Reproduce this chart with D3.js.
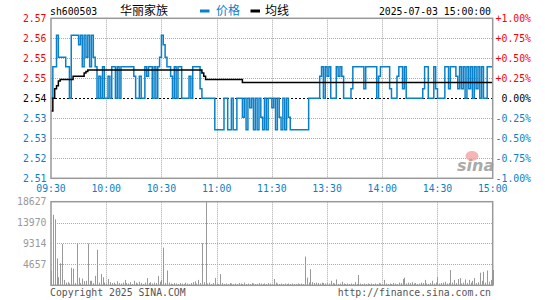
<!DOCTYPE html>
<html>
<head>
<meta charset="utf-8">
<title>sh600503 分时</title>
<style>
  body { margin: 0; background: #fff; }
  svg text { font-family: "DejaVu Sans Mono", monospace; font-size: 9.8px; }
  svg text.cjk { font-family: "Noto Sans CJK SC", sans-serif; font-size: 12px; }
</style>
</head>
<body>
<svg width="545" height="300"></svg>
<script src="https://d3js.org/d3.v7.min.js"></script>
<script>
// 数据
var code = 'sh600503';
var stockName = '华丽家族';
var stamp = '2025-07-03 15:00:00';
var prevClose = 2.54;

var timeTicks = [0, 30, 60, 90, 120, 150, 180, 210, 240];
var timeLabels = ['09:30', '10:00', '10:30', '11:00', '11:30', '13:30', '14:00', '14:30', '15:00'];

var pctTicks = [1, 0.75, 0.5, 0.25, 0, -0.25, -0.5, -0.75, -1];
var priceLabels = ['2.57', '2.56', '2.55', '2.55', '2.54', '2.53', '2.53', '2.52', '2.51'];
var pctLabels = ['+1.00%', '+0.75%', '+0.50%', '+0.25%', '0.00%', '-0.25%', '-0.50%', '-0.75%', '-1.00%'];

var volTicks = [18627, 13970, 9314, 4657];
var volMax = 18627;

// 每分钟价格 (241)
var price = [
  2.54, 2.55, 2.55, 2.56, 2.553, 2.553, 2.553, 2.553, 2.55, 2.55,
  2.54, 2.56, 2.56, 2.56, 2.56, 2.557, 2.56, 2.55, 2.56, 2.553,
  2.56, 2.55, 2.56, 2.553, 2.55, 2.54, 2.547, 2.54, 2.55, 2.54,
  2.54, 2.547, 2.54, 2.55, 2.55, 2.54, 2.55, 2.54, 2.55, 2.55,
  2.55, 2.55, 2.55, 2.55, 2.55, 2.547, 2.54, 2.54, 2.547, 2.54,
  2.54, 2.55, 2.547, 2.55, 2.55, 2.54, 2.55, 2.54, 2.55, 2.553,
  2.56, 2.557, 2.553, 2.55, 2.55, 2.547, 2.54, 2.55, 2.54, 2.55,
  2.55, 2.54, 2.54, 2.54, 2.54, 2.547, 2.54, 2.55, 2.55, 2.55,
  2.55, 2.543, 2.54, 2.54, 2.54, 2.54, 2.54, 2.54, 2.54, 2.53,
  2.53, 2.53, 2.53, 2.53, 2.54, 2.54, 2.53, 2.53, 2.54, 2.53,
  2.53, 2.54, 2.54, 2.54, 2.534, 2.54, 2.53, 2.54, 2.537, 2.54,
  2.53, 2.54, 2.53, 2.54, 2.534, 2.53, 2.54, 2.53, 2.54, 2.54,
  2.537, 2.54, 2.53, 2.54, 2.534, 2.53, 2.54, 2.53, 2.54, 2.534,
  2.53, 2.53, 2.53, 2.53, 2.53, 2.53, 2.53, 2.53, 2.53, 2.53,
  2.54, 2.54, 2.54, 2.54, 2.54, 2.54, 2.547, 2.55, 2.54, 2.55,
  2.547, 2.55, 2.54, 2.54, 2.54, 2.55, 2.547, 2.55, 2.547, 2.54,
  2.54, 2.54, 2.54, 2.543, 2.55, 2.55, 2.55, 2.55, 2.55, 2.55,
  2.543, 2.55, 2.55, 2.55, 2.55, 2.55, 2.55, 2.54, 2.547, 2.55,
  2.55, 2.55, 2.55, 2.55, 2.543, 2.54, 2.54, 2.54, 2.547, 2.55,
  2.55, 2.543, 2.55, 2.54, 2.54, 2.54, 2.54, 2.54, 2.54, 2.54,
  2.54, 2.54, 2.543, 2.55, 2.55, 2.54, 2.54, 2.54, 2.55, 2.543,
  2.54, 2.54, 2.54, 2.54, 2.55, 2.55, 2.543, 2.55, 2.55, 2.55,
  2.547, 2.543, 2.55, 2.543, 2.55, 2.54, 2.55, 2.543, 2.55, 2.54,
  2.55, 2.543, 2.55, 2.54, 2.55, 2.54, 2.54, 2.55, 2.55, 2.55,
  2.55
];

// 均线 (分钟, 价格) 变化点
var avgLine = [
  [0, 2.536], [1, 2.540], [2, 2.543], [3, 2.544], [4, 2.5455], [5, 2.546],
  [12, 2.547], [18, 2.548], [19, 2.5485], [20, 2.549], [82, 2.548], [83, 2.547],
  [84, 2.546], [104, 2.545], [240, 2.545]
];

// 每分钟成交量 (241)
var volume = [
  3300, 15700, 14700, 6000, 1800, 4900, 9200, 1200, 600, 700,
  400, 3900, 3700, 500, 9400, 1700, 500, 1500, 900, 1000,
  9300, 1000, 1000, 500, 2100, 7900, 600, 2500, 1800, 600,
  400, 1400, 700, 500, 600, 300, 900, 500, 400, 600,
  1200, 500, 400, 700, 300, 1000, 600, 400, 800, 500,
  300, 600, 1600, 500, 700, 400, 600, 500, 2100, 800,
  1200, 8400, 500, 3300, 600, 400, 300, 500, 400, 300,
  500, 400, 300, 600, 400, 300, 500, 700, 900, 400,
  1200, 500, 9400, 700, 18627, 400, 600, 300, 500, 1600,
  400, 300, 2500, 500, 300, 400, 300, 500, 400, 300,
  400, 300, 500, 400, 300, 600, 300, 400, 300, 500,
  400, 300, 300, 500, 400, 300, 400, 300, 500, 400,
  300, 1400, 600, 400, 300, 400, 300, 400, 300, 400,
  300, 400, 300, 300, 400, 300, 400, 300, 6400, 1700,
  600, 3600, 700, 500, 600, 500, 400, 600, 500, 400,
  500, 400, 1000, 500, 400, 1300, 300, 400, 800, 400,
  300, 400, 300, 400, 300, 700, 300, 2300, 400, 300,
  400, 300, 400, 300, 400, 300, 400, 300, 500, 400,
  300, 1200, 400, 300, 400, 300, 500, 400, 300, 600,
  500, 1400, 1700, 400, 600, 500, 700, 400, 500, 300,
  400, 600, 500, 1200, 400, 300, 500, 1000, 400, 600,
  1800, 400, 500, 600, 800, 400, 500, 3400, 600, 1200,
  500, 1400, 1600, 400, 600, 1300, 500, 1200, 600, 1000,
  1600, 500, 700, 2800, 1000, 3000, 600, 3300, 800, 1200,
  3400
];

var blue = '#0a80c8';
var grey = '#999';

var svg = d3.select('svg');
var left = 51, right = 492.7;
var x = d3.scaleLinear().domain([0, 240]).range([left, right]);
var y = d3.scaleLinear().domain([prevClose * 0.99, prevClose * 1.01]).range([178.3, 18.3]);
var yv = d3.scaleLinear().domain([0, volMax]).range([285.3, 201.7]);
function pctY(p) { return y(prevClose * (1 + p / 100)); }
function labelColor(p) { return p > 0 ? '#f00' : (p < 0 ? blue : '#000'); }

// 标题
svg.append('text').attr('x', 50).attr('y', 14.5).text(code);
svg.append('text').attr('class', 'cjk').attr('x', 120).attr('y', 15).text(stockName);
svg.append('rect').attr('x', 200).attr('y', 9.5).attr('width', 9.5).attr('height', 3).attr('fill', blue);
svg.append('text').attr('class', 'cjk').attr('x', 216).attr('y', 15).attr('fill', blue).text('价格');
svg.append('rect').attr('x', 250.5).attr('y', 9.5).attr('width', 9.5).attr('height', 3).attr('fill', '#000');
svg.append('text').attr('class', 'cjk').attr('x', 265).attr('y', 15).text('均线');
svg.append('text').attr('x', 491).attr('y', 14.5).attr('text-anchor', 'end').text(stamp);

// 网格
var grid = svg.append('g').attr('stroke', '#aaa').attr('stroke-dasharray', '1,1').attr('stroke-width', 1);
grid.selectAll('.hp').data(pctTicks.filter(function(p) { return p !== 0 && Math.abs(p) !== 1; }))
  .enter().append('line')
  .attr('x1', left).attr('x2', right)
  .attr('y1', function(p) { return Math.round(pctY(p)) + 0.5; })
  .attr('y2', function(p) { return Math.round(pctY(p)) + 0.5; });
grid.selectAll('.hv').data(volTicks.slice(1))
  .enter().append('line')
  .attr('x1', left).attr('x2', right)
  .attr('y1', function(v) { return Math.round(yv(v)) + 0.5; })
  .attr('y2', function(v) { return Math.round(yv(v)) + 0.5; });
timeTicks.slice(1, -1).forEach(function(t) {
  var xx = Math.round(x(t)) + 0.5;
  grid.append('line').attr('x1', xx).attr('x2', xx).attr('y1', y.range()[1]).attr('y2', y.range()[0]);
  grid.append('line').attr('x1', xx).attr('x2', xx).attr('y1', yv.range()[1]).attr('y2', yv.range()[0]);
});

// 新浪水印
var logo = svg.append('g');
logo.append('ellipse').attr('cx', 472).attr('cy', 156).attr('rx', 6.5).attr('ry', 5)
  .attr('fill', '#f3a3a3').attr('opacity', 0.8);
logo.append('text').attr('x', 457).attr('y', 171)
  .style('font-family', '"DejaVu Sans", sans-serif').style('font-size', '16px')
  .style('font-style', 'italic').style('font-weight', 'bold')
  .attr('fill', '#aaa').text('sina');

// 昨收虚线
svg.append('line').attr('x1', left).attr('x2', right)
  .attr('y1', Math.round(pctY(0)) + 0.5).attr('y2', Math.round(pctY(0)) + 0.5)
  .attr('stroke', '#000').attr('stroke-width', 1.2).attr('stroke-dasharray', '2,2');

// 成交量
svg.append('g').selectAll('line').data(volume).enter().append('line')
  .attr('x1', function(d, i) { return Math.round(x(i)) + 0.5; })
  .attr('x2', function(d, i) { return Math.round(x(i)) + 0.5; })
  .attr('y1', yv(0))
  .attr('y2', function(d) { return yv(d); })
  .attr('stroke', grey).attr('stroke-width', 1);

// 价格线
var line = d3.line()
  .x(function(d, i) { return x(i); })
  .y(function(d) { return y(d); })
  .curve(d3.curveStepAfter);
svg.append('path').datum(price).attr('d', line)
  .attr('fill', 'none').attr('stroke', blue).attr('stroke-width', 1.5);

// 均线
var avg = d3.line()
  .x(function(d) { return x(d[0]); })
  .y(function(d) { return y(d[1]); })
  .curve(d3.curveStepAfter);
svg.append('path').datum(avgLine).attr('d', avg)
  .attr('fill', 'none').attr('stroke', '#000').attr('stroke-width', 1.5);

// 边框
[[y.range()[1], y.range()[0]], [yv.range()[1], yv.range()[0]]].forEach(function(r) {
  svg.append('rect').attr('x', left).attr('y', r[0]).attr('width', right - left).attr('height', r[1] - r[0])
    .attr('fill', 'none').attr('stroke', grey).attr('stroke-width', 1.5);
});

// 坐标标签
svg.selectAll('.pl').data(pctTicks).enter().append('text')
  .attr('x', 46.5).attr('y', function(p) { return pctY(p) + 3.5; })
  .attr('text-anchor', 'end')
  .attr('fill', labelColor)
  .text(function(p, i) { return priceLabels[i]; });
svg.selectAll('.pr').data(pctTicks).enter().append('text')
  .attr('x', 531).attr('y', function(p) { return pctY(p) + 3.5; })
  .attr('text-anchor', 'end')
  .attr('fill', labelColor)
  .text(function(p, i) { return pctLabels[i]; });
svg.selectAll('.tl').data(timeTicks).enter().append('text')
  .attr('x', function(t) { return x(t); }).attr('y', 192)
  .attr('text-anchor', 'middle').attr('fill', blue)
  .text(function(t, i) { return timeLabels[i]; });
svg.selectAll('.vl').data(volTicks).enter().append('text')
  .attr('x', 46.5).attr('y', function(v) { return yv(v) + 3.5; })
  .attr('text-anchor', 'end').attr('fill', grey)
  .text(function(v) { return v; });

// 版权
svg.append('text').attr('x', 50).attr('y', 296).attr('fill', '#555').text('Copyright 2025 SINA.COM');
svg.append('text').attr('x', 491).attr('y', 296).attr('text-anchor', 'end').attr('fill', '#555')
  .text('http://finance.sina.com.cn');
</script>
</body>
</html>
